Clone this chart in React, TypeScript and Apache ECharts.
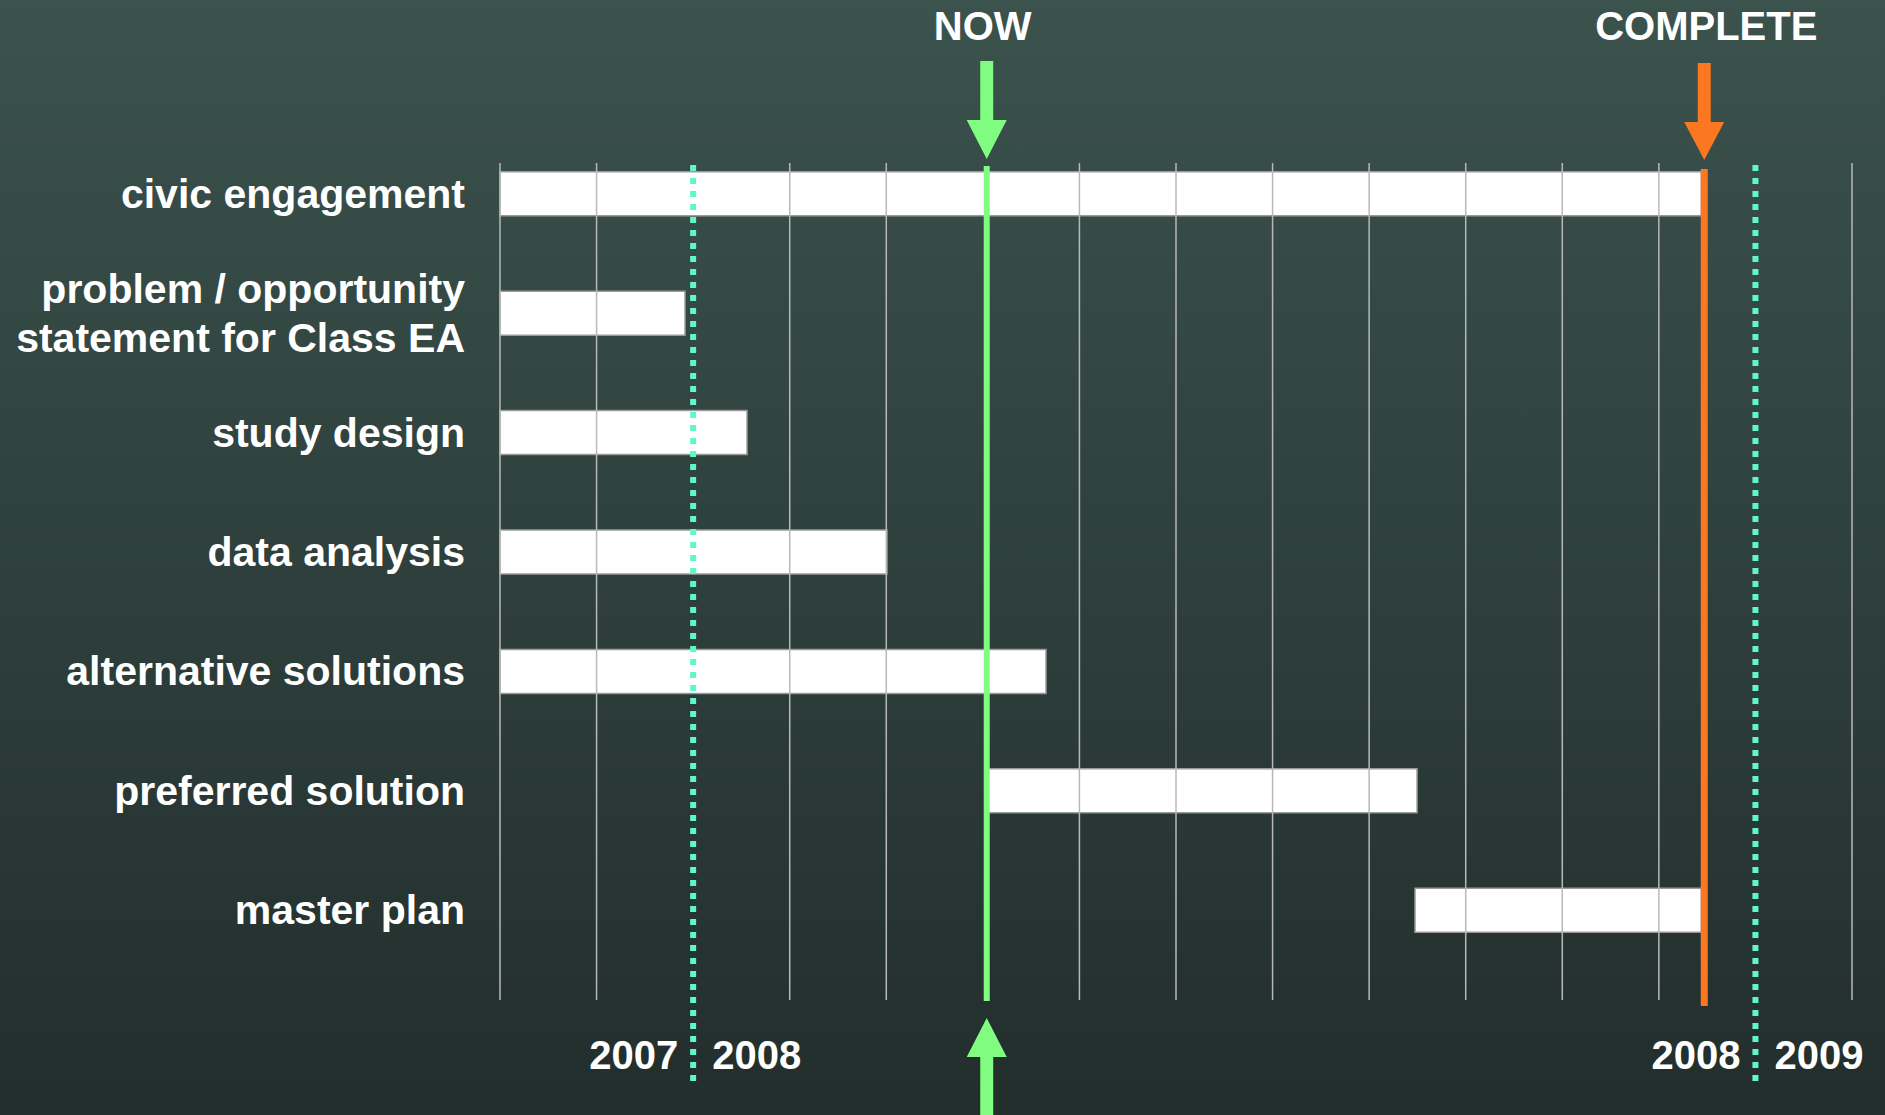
import React, { useEffect, useRef } from 'react';
import * as echarts from 'echarts';

const categories = [
  'civic engagement',
  'problem / opportunity\nstatement for Class EA',
  'study design',
  'data analysis',
  'alternative solutions',
  'preferred solution',
  'master plan',
];
const taskStart = [0, 0, 0, 0, 0, 5.05, 9.475];
const taskEnd = [12.44, 1.916, 2.558, 4.007, 5.654, 9.496, 12.44];

const axisMin = 0;
const axisMax = 14;
const gridTicks = [0, 1, 3, 4, 6, 7, 8, 9, 10, 11, 12, 14];
const yearBoundaries = [2, 13];
const yearLabelsBefore = ['2007', '2008'];
const yearLabelsAfter = ['2008', '2009'];
const nowValue = 5.04;
const completeValue = 12.47;

const FONT = '"Liberation Sans", Arial, Helvetica, sans-serif';
const GREEN = '#80fd80';
const ORANGE = '#fc7722';
const CYAN = '#60f8c8';

function downArrow(cx: number, shaftTop: number, headTop: number, tip: number, hw: number, sw: number) {
  return [
    [cx - sw, shaftTop], [cx + sw, shaftTop], [cx + sw, headTop], [cx + hw, headTop],
    [cx, tip], [cx - hw, headTop], [cx - sw, headTop],
  ];
}

export default function App() {
  const ref = useRef<HTMLDivElement>(null);
  useEffect(() => {
    if (!ref.current) return;
    const chart = echarts.init(ref.current, undefined, { renderer: 'svg' });
    const option: any = {
      animation: false,
      backgroundColor: new echarts.graphic.LinearGradient(0, 0, 0, 1, [
        { offset: 0, color: '#3b524d' },
        { offset: 1, color: '#222e2c' },
      ]),
      grid: [
        { left: 500, right: 33, top: 134, bottom: 145 },
        { left: 500, right: 33, top: 163, bottom: 115 },
      ],
      xAxis: [
        { type: 'value', gridIndex: 0, min: axisMin, max: axisMax, interval: 1, show: false },
        { type: 'value', gridIndex: 1, min: axisMin, max: axisMax, interval: 1, show: false },
      ],
      yAxis: [
        {
          type: 'category', gridIndex: 0, data: categories, inverse: true,
          axisLine: { show: false }, axisTick: { show: false }, splitLine: { show: false },
          axisLabel: {
            color: '#ffffff', fontSize: 41, fontWeight: 'bold', fontFamily: FONT,
            margin: 35, lineHeight: 49, padding: [0, 0, 18, 0], align: 'right',
          },
        },
        { type: 'value', gridIndex: 1, min: 0, max: 1, show: false },
      ],
      series: [
        {
          type: 'custom', xAxisIndex: 0, yAxisIndex: 0, z: 2,
          data: categories.map((_, i) => [taskStart[i], taskEnd[i], i]),
          encode: { x: [0, 1], y: 2 },
          renderItem: (params: any, api: any) => {
            const s = api.coord([api.value(0), api.value(2)]);
            const e = api.coord([api.value(1), api.value(2)]);
            const h = 44;
            return {
              type: 'rect',
              shape: { x: s[0], y: s[1] - h / 2, width: e[0] - s[0], height: h },
              style: { fill: '#ffffff', stroke: '#9a9a9a', lineWidth: 1.5 },
            };
          },
        },
        {
          type: 'custom', xAxisIndex: 1, yAxisIndex: 1, z: 4,
          data: gridTicks.map((v) => [v, 0]),
          encode: { x: 0, y: 1 },
          renderItem: (params: any, api: any) => {
            const a = api.coord([api.value(0), 1]);
            const b = api.coord([api.value(0), 0]);
            return {
              type: 'line',
              shape: { x1: a[0], y1: a[1], x2: b[0], y2: b[1] },
              style: { stroke: '#b8b8b8', lineWidth: 1.5 },
            };
          },
        },
      ],
    };
    chart.setOption(option);

    const px = (v: number) => chart.convertToPixel({ xAxisIndex: 0 }, v) as number;
    const nowX = px(nowValue);
    const compX = px(completeValue);
    const textStyle = (text: string, align: string) => ({
      text, fill: '#ffffff', font: `bold 40px ${FONT}`, textAlign: align, textVerticalAlign: 'middle',
    });
    const graphics: any[] = [];
    yearBoundaries.forEach((v, i) => {
      const x = px(v);
      graphics.push({
        type: 'line', z: 50, shape: { x1: x, y1: 165, x2: x, y2: 1081 },
        style: { stroke: CYAN, lineWidth: 6, lineDash: [6, 7], lineCap: 'butt' },
      });
      graphics.push({ type: 'text', z: 50, x: x - 15, y: 1055, style: textStyle(yearLabelsBefore[i], 'right') });
      graphics.push({ type: 'text', z: 50, x: x + 19, y: 1055, style: textStyle(yearLabelsAfter[i], 'left') });
    });
    graphics.push({
      type: 'line', z: 60, shape: { x1: nowX, y1: 166, x2: nowX, y2: 1001 },
      style: { stroke: GREEN, lineWidth: 6 },
    });
    graphics.push({
      type: 'line', z: 60, shape: { x1: compX, y1: 169, x2: compX, y2: 1006 },
      style: { stroke: ORANGE, lineWidth: 7 },
    });
    graphics.push({
      type: 'polygon', z: 60, shape: { points: downArrow(nowX, 61, 120, 159, 20, 6.5) },
      style: { fill: GREEN },
    });
    graphics.push({
      type: 'polygon', z: 60, shape: { points: downArrow(compX, 63, 122, 160, 20, 6.5) },
      style: { fill: ORANGE },
    });
    graphics.push({
      type: 'polygon', z: 60,
      shape: {
        points: [
          [nowX - 6.5, 1120], [nowX + 6.5, 1120], [nowX + 6.5, 1057], [nowX + 20, 1057],
          [nowX, 1018], [nowX - 20, 1057], [nowX - 6.5, 1057],
        ],
      },
      style: { fill: GREEN },
    });
    graphics.push({ type: 'text', z: 60, x: nowX - 4, y: 26, style: textStyle('NOW', 'center') });
    graphics.push({ type: 'text', z: 60, x: compX + 2, y: 26, style: textStyle('COMPLETE', 'center') });
    chart.setOption({ graphic: graphics });

    return () => chart.dispose();
  }, []);
  return (
    <div
      ref={ref}
      style={{ position: 'fixed', left: 0, top: 0, width: 1885, height: 1115, background: '#2e3f3c' }}
    />
  );
}
